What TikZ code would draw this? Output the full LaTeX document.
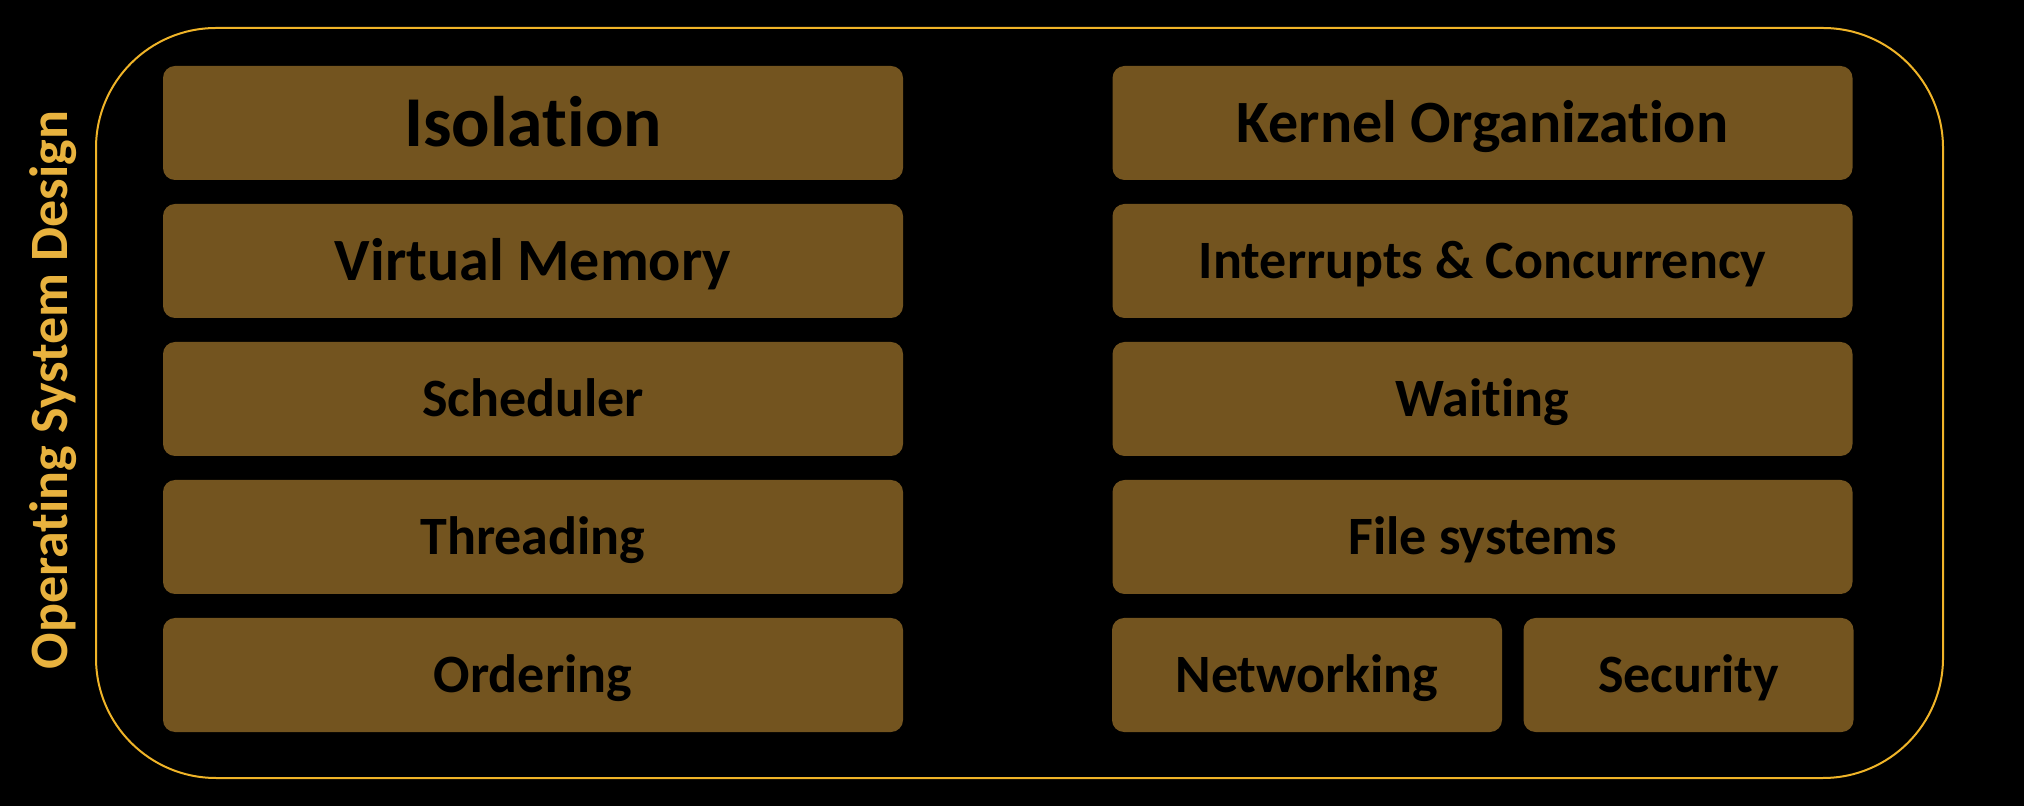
\documentclass[tikz,border=0pt]{standalone}
\usepackage{fontspec}
\setmainfont[Ligatures=NoCommon]{Carlito}
\definecolor{boxfill}{RGB}{115,84,31}
\definecolor{labelgold}{RGB}{232,178,62}
\definecolor{framegold}{RGB}{240,180,40}

\begin{document}
\begin{tikzpicture}[x=0.5pt,y=-0.5pt,
    topic/.style={fill=boxfill,rounded corners=6pt,minimum height=57pt,minimum width=370pt,
        inner sep=0pt,text height=17.4pt,text depth=0pt,text=black,
        font=\bfseries\fontsize{27}{31}\selectfont},
    bigtopic/.style={topic,text height=19.3pt,font=\bfseries\fontsize{30}{34}\selectfont}]
    % background
    \fill[black] (0,0) rectangle (2024,806);
    % frame
    \draw[framegold,line width=1pt,rounded corners=60pt] (96,28) rectangle (1943,778);
    \node[rotate=90,anchor=base,text=labelgold,font=\bfseries\fontsize{27}{31}\selectfont] (title) at (67,390) {Operating System Design};

    % left column
    \node[topic,text height=23.1pt,font=\bfseries\fontsize{35.8}{40}\selectfont] (iso) at (533,123) {Isolation};
    \node[bigtopic] (vm) at (533,261) {Virtual Memory};
    \node[topic] (sched) at (533,399) {Scheduler};
    \node[topic] (thread) at (533,537) {Threading};
    \node[topic] (order) at (533,675) {Ordering};

    % right column
    \node[bigtopic] (kernel) at (1482.5,123) {Kernel Organization};
    \node[topic] (intr) at (1482.5,261) {Interrupts \& Concurrency};
    \node[topic] (wait) at (1482.5,399) {Waiting};
    \node[topic] (fs) at (1482.5,537) {File systems};
    \node[topic,minimum width=195pt] (net) at (1307,675) {Networking};
    \node[topic,minimum width=165pt] (sec) at (1688.5,675) {Security};
\end{tikzpicture}
\end{document}
